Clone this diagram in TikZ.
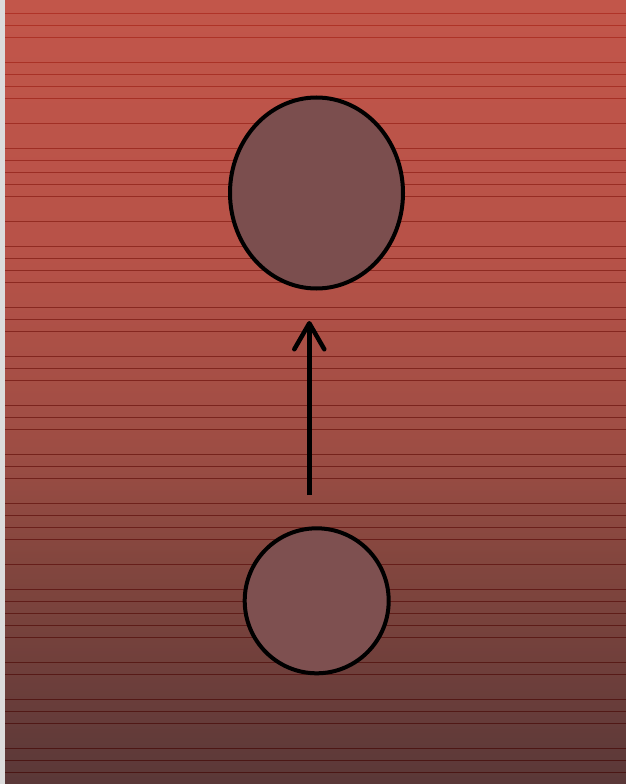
\documentclass[tikz,border=0pt]{standalone}
\usetikzlibrary{arrows.meta,shapes.geometric}
\definecolor{strip}{RGB}{220,220,220}
\definecolor{bgA}{RGB}{194,86,74}
\definecolor{bgB}{RGB}{183,82,72}
\definecolor{bgC}{RGB}{157,77,68}
\definecolor{bgD}{RGB}{131,70,62}
\definecolor{bgE}{RGB}{90,56,56}
\definecolor{lineTop}{RGB}{178,52,40}
\definecolor{lineBot}{RGB}{72,22,20}
\definecolor{blobfill}{RGB}{123,78,78}
\definecolor{blobfillb}{RGB}{126,80,80}
\pgfdeclareverticalshading{bgshade}{100bp}{color(0bp)=(bgE); color(25bp)=(bgE); color(39.3bp)=(bgD); color(46.3bp)=(bgC); color(59bp)=(bgB); color(75bp)=(bgA); color(100bp)=(bgA)}
\tikzset{
  blob/.style={ellipse, draw=black, line width=4pt, inner sep=0pt},
  scanline/.style={line width=1pt},
  arrowline/.style={line width=4.5pt, -{Straight Barb[length=26pt, width=30pt, line cap=round, line join=round]}}
}
\begin{document}
\begin{tikzpicture}[x=1pt, y=-1pt]
\useasboundingbox (0,0) rectangle (626,784);
\fill[strip] (0,0) rectangle (5,784);
\shade[shading=bgshade] (5,0) rectangle (626,784);
\foreach \yy in {13.3,25.3,37.3,62.3,74.3,86.3,98.3,123.3,148.3,160.3,172.3,184.3,196.3,221.3,246.3,258.3,270.3,282.3,307.3,319.3,331.3,356.3,368.3,380.3,405.3,417.3,429.3,454.3,466.3,478.3,503.3,515.3,527.3,539.3,564.3,589.3,601.3,613.3,625.3,637.3,662.3,674.3,699.3,711.3,723.3,748.3,760.3,772.3}{
  \pgfmathsetmacro{\pc}{100-\yy/784*100}
  \draw[scanline, color=lineTop!\pc!lineBot] (5,\yy) -- (626,\yy);
}
\node[blob, fill=blobfill, minimum width=173pt, minimum height=191pt] (upper) at (316.5,193) {};
\node[blob, fill=blobfillb, minimum width=144pt, minimum height=145pt] (lower) at (316.7,600.8) {};
\coordinate (arrowstart) at (309.3,495);
\coordinate (arrowtip) at (309.3,321);
\draw[arrowline] (arrowstart) -- (arrowtip);
\end{tikzpicture}
\end{document}
